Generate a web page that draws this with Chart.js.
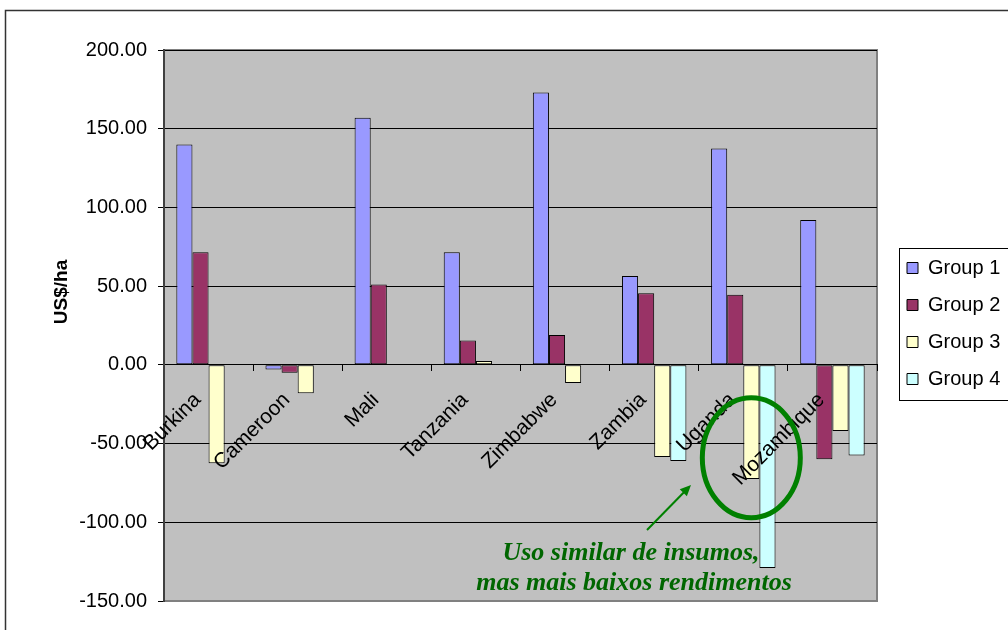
<!DOCTYPE html>
<html>
<head>
<meta charset="utf-8">
<script src="https://cdn.jsdelivr.net/npm/chart.js@4.4.0/dist/chart.umd.min.js"></script>
<style>
  html, body { margin: 0; padding: 0; background: #fff; }
  #wrap { width: 1008px; height: 630px; position: relative; }
</style>
</head>
<body>
<div id="wrap"><canvas id="chart"></canvas></div>
<script>
const countries = ["Burkina", "Cameroon", "Mali", "Tanzania", "Zimbabwe", "Zambia", "Uganda", "Mozambique"];
const group1 = [140, -3, 157, 71.5, 173, 56.5, 137.5, 92];
const group2 = [71.5, -5, 51, 15.5, 19, 45.5, 44.5, -60];
const group3 = [-62.5, -18, null, 2.5, -11.5, -58.5, -72.5, -42];
const group4 = [null, null, null, null, null, -61, -129, -57.5];
const groupNames = ["Group 1", "Group 2", "Group 3", "Group 4"];
const groupColors = ["#9999FF", "#993366", "#FFFFCC", "#CCFFFF"];
const yTicks = [-150, -100, -50, 0, 50, 100, 150, 200];
const yTitle = "US$/ha";
const noteLines = ["Uso similar de insumos,", "mas mais baixos rendimentos"];

const sans = "'Liberation Sans', Arial, sans-serif";
const serif = "'Liberation Serif', 'Times New Roman', serif";

const series = [group1, group2, group3, group4];
const datasets = series.map((values, i) => ({
  label: groupNames[i],
  data: values,
  backgroundColor: groupColors[i],
  borderColor: "#000",
  borderWidth: 1,
  borderSkipped: false,
  categoryPercentage: 0.723,
  barPercentage: 1.0
}));

// background, frame, legend box, axis title and the green note
const decor = {
  id: "decor",
  beforeDraw(chart) {
    const { ctx, chartArea: a } = chart;
    ctx.save();
    ctx.fillStyle = "#fff";
    ctx.fillRect(0, 0, chart.width, chart.height);
    ctx.strokeStyle = "#333";
    ctx.lineWidth = 1.5;
    ctx.strokeRect(5.5, 10.5, 1100, 700);
    ctx.fillStyle = "#C0C0C0";
    ctx.fillRect(a.left, a.top, a.right - a.left, a.bottom - a.top);
    ctx.strokeStyle = "#808080";
    ctx.lineWidth = 2;
    ctx.strokeRect(a.left, a.top, a.right - a.left, a.bottom - a.top);
    ctx.restore();
  },
  afterLayout(chart) {
    const lg = chart.legend;
    const w = lg.width;
    lg.left = 890;
    lg.right = lg.left + w;
    lg.top = 241;
    lg.bottom = 630;
  },
  afterDraw(chart) {
    const { ctx } = chart;
    const x = chart.scales.x, y = chart.scales.y;
    ctx.save();
    // legend frame
    ctx.strokeStyle = "#000";
    ctx.lineWidth = 1;
    ctx.strokeRect(899.5, 248.5, 140, 152);

    // y axis title
    ctx.fillStyle = "#000";
    ctx.font = "bold 19px " + sans;
    ctx.textAlign = "center";
    ctx.textBaseline = "middle";
    ctx.translate(62, 292);
    ctx.rotate(-Math.PI / 2);
    ctx.fillText(yTitle, 0, 0);
    ctx.setTransform(1, 0, 0, 1, 0, 0);

    // ellipse round Uganda / Mozambique
    const cx = x.getPixelForValue(6) + 8;
    const cy = y.getPixelForValue(-59);
    ctx.strokeStyle = "#008000";
    ctx.lineWidth = 5;
    ctx.beginPath();
    ctx.ellipse(cx, cy, 49, 60, 0, 0, Math.PI * 2);
    ctx.stroke();

    // arrow
    const x0 = 647, y0 = 530, x1 = 691, y1 = 485;
    const ang = Math.atan2(y1 - y0, x1 - x0);
    ctx.lineWidth = 2;
    ctx.beginPath();
    ctx.moveTo(x0, y0);
    ctx.lineTo(x1 - 8 * Math.cos(ang), y1 - 8 * Math.sin(ang));
    ctx.stroke();
    ctx.fillStyle = "#008000";
    ctx.beginPath();
    ctx.moveTo(x1, y1);
    ctx.lineTo(x1 - 11 * Math.cos(ang) + 5 * Math.sin(ang), y1 - 11 * Math.sin(ang) - 5 * Math.cos(ang));
    ctx.lineTo(x1 - 11 * Math.cos(ang) - 5 * Math.sin(ang), y1 - 11 * Math.sin(ang) + 5 * Math.cos(ang));
    ctx.closePath();
    ctx.fill();

    // note text
    ctx.fillStyle = "#006600";
    ctx.font = "italic bold 26px " + serif;
    ctx.textAlign = "center";
    ctx.textBaseline = "alphabetic";
    ctx.fillText(noteLines[0], 631, 560);
    ctx.fillText(noteLines[1], 634, 590);
    ctx.restore();
  }
};

new Chart(document.getElementById("chart"), {
  type: "bar",
  data: { labels: countries, datasets: datasets },
  options: {
    responsive: true,
    maintainAspectRatio: false,
    animation: false,
    layout: { padding: { left: 5, top: 50, right: 21, bottom: 29 } },
    plugins: {
      legend: {
        position: "right",
        align: "start",
        maxWidth: 110,
        labels: {
          boxWidth: 11,
          boxHeight: 11,
          padding: 17,
          color: "#000",
          font: { family: sans, size: 20 }
        }
      },
      tooltip: { enabled: false }
    },
    scales: {
      x: {
        position: { y: 0 },
        offset: true,
        grid: { display: true, drawOnChartArea: false, drawTicks: true, tickLength: 6, color: "#000", offset: true },
        border: { display: true, color: "#000", width: 1 },
        ticks: {
          autoSkip: false,
          minRotation: 45,
          maxRotation: 45,
          padding: 17,
          labelOffset: -11,
          color: "#000",
          z: 1,
          font: { family: sans, size: 21 }
        }
      },
      y: {
        min: yTicks[0],
        max: yTicks[yTicks.length - 1],
        afterFit(scale) { scale.width = 159; },
        grid: {
          color: (c) => (c.tick && c.tick.value === yTicks[0] ? "#808080" : "#000"),
          tickColor: "#000",
          tickLength: 6,
          lineWidth: 1
        },
        border: { color: "#404040", width: 2 },
        ticks: {
          stepSize: 50,
          padding: 11,
          color: "#000",
          font: { family: sans, size: 20 },
          callback: (v) => v.toFixed(2)
        }
      }
    }
  },
  plugins: [decor]
});
</script>
</body>
</html>
